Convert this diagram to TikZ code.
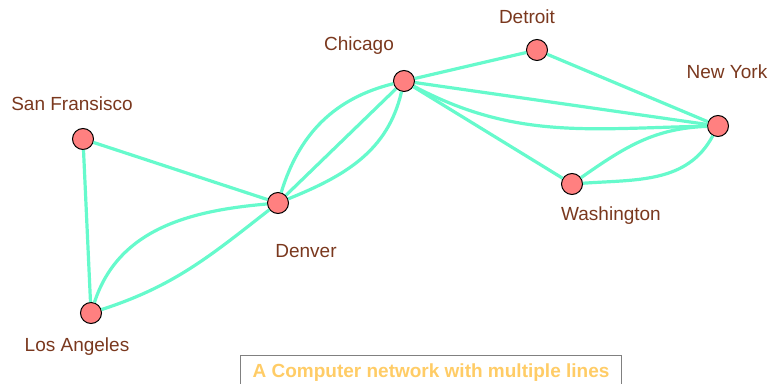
\documentclass[tikz,border=0pt]{standalone}
\usepackage{fontspec}
\setmainfont{Liberation Sans}
\usepackage{tikz}
\definecolor{linecol}{RGB}{102,250,204}
\definecolor{citycol}{RGB}{255,128,128}
\definecolor{namecol}{RGB}{122,56,30}
\definecolor{titlecol}{RGB}{255,204,102}

\begin{document}
\begin{tikzpicture}[x=1pt,y=1pt,
  city/.style={circle,draw=black,line width=1pt,fill=citycol,minimum size=21pt,inner sep=0pt},
  cityname/.style={anchor=base,text=namecol,font=\fontsize{19}{23}\selectfont},
  wire/.style={draw=linecol,line width=3.2pt}]
\useasboundingbox (0,0) rectangle (771,383);
% the cities
\node[city] (sf) at (83,244) {};
\node[city] (la) at (91,70) {};
\node[city] (den) at (278,180) {};
\node[city] (chi) at (404,302) {};
\node[city] (det) at (537,333) {};
\node[city] (ny) at (718,257) {};
\node[city] (wash) at (572,199) {};
\node[cityname] (sfname) at (72,272) {San Fransisco};
\node[cityname] (laname) at (77,31) {Los Angeles};
\node[cityname] (denname) at (306,125) {Denver};
\node[cityname] (chiname) at (359,332) {Chicago};
\node[cityname] (detname) at (527,359) {Detroit};
\node[cityname] (nyname) at (727,304) {New York};
\node[cityname] (washname) at (611,162) {Washington};
% the lines
\draw[wire] (sf) -- (la);
\draw[wire] (sf) -- (den);
\draw[wire] (la) to[out=72,in=185] (den);
\draw[wire] (la) to[out=18,in=218] (den);
\draw[wire] (den) -- (chi);
\draw[wire] (den) to[out=73,in=194] (chi);
\draw[wire] (den) to[out=22,in=257] (chi);
\draw[wire] (chi) -- (det);
\draw[wire] (det) -- (ny);
\draw[wire] (chi) -- (ny);
\draw[wire] (chi) to[out=-28,in=181] (ny);
\draw[wire] (chi) -- (wash);
\draw[wire] (wash) to[out=35,in=182] (ny);
\draw[wire] (wash) to[out=4,in=242] (ny);
% caption
\node[draw=gray,line width=1pt,anchor=base,inner xsep=12pt,inner ysep=0pt,
  text height=22pt,text depth=20pt,text=titlecol,
  font=\bfseries\fontsize{19}{23}\selectfont] (title) at (431,6)
  {A Computer network with multiple lines};
\end{tikzpicture}
\end{document}
